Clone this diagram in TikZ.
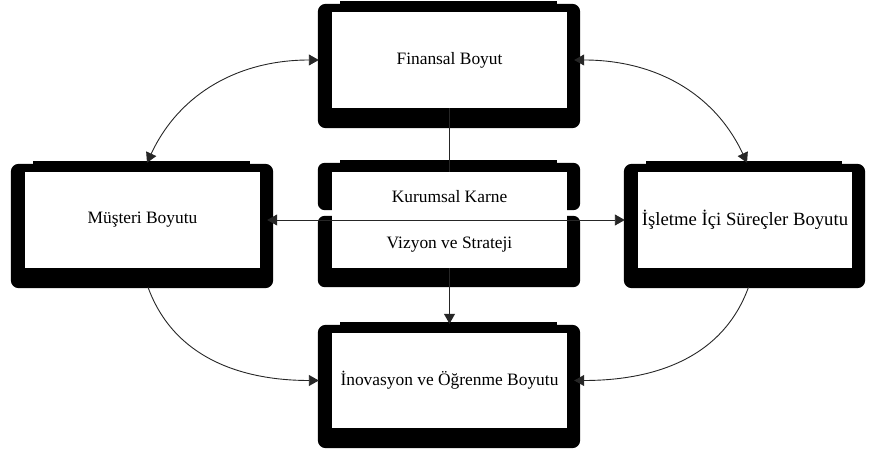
\documentclass[tikz,border=0pt]{standalone}
\usepackage{fontspec}
\setmainfont{Liberation Serif}
\usetikzlibrary{calc,arrows.meta,backgrounds}

% heavy black frame around a panel node: thin top, heavy sides and bottom
\newcommand\panelframe[1]{%
  \fill[rounded corners=8pt] ($(#1.south west)+(-14,-20)$) rectangle ($(#1.north east)+(13,8)$);
  \fill ($(#1.north west)+(8,8)$) rectangle ($(#1.north east)+(-10,10.5)$);
}

\begin{document}
\begin{tikzpicture}[x=1pt,y=1pt,
  panel/.style={fill=white, inner sep=0pt, minimum width=235pt, minimum height=96pt,
                font=\fontsize{17.4}{20}\selectfont},
  link/.style={draw=black!85, line width=0.9pt},
  head/.tip={Triangle[length=10pt,width=11pt]},
  twoway/.style={link, head-head},
  oneway/.style={link, -head}]

\useasboundingbox (0,0) rectangle (878,452);

% panels
\node[panel] (fin) at (449.5,392) {Finansal Boyut};
\node[panel] (mus) at (142.5,232) {Müşteri Boyutu};
\node[panel, minimum width=214pt, font=\fontsize{18.7}{20}\selectfont] (isl) at (745,232) {İşletme İçi Süreçler Boyutu};
\node[panel, minimum height=49pt] (kk) at (449.5,255.5) {Kurumsal Karne};
\node[panel, minimum height=47pt] (vs) at (449.5,207.5) {Vizyon ve Strateji};
\node[panel, minimum height=95pt] (ino) at (449.5,71.5) {İnovasyon ve Öğrenme Boyutu};

% frames behind the panels
\begin{scope}[on background layer]
  \panelframe{fin}
  \panelframe{mus}
  \panelframe{isl}
  \panelframe{ino}
  % the central panel is two stacked frames with a notch between them
  \fill[rounded corners=7pt] ($(kk.south west)+(-14,11)$) rectangle ($(kk.north east)+(13,9)$);
  \fill ($(kk.north west)+(8,9)$) rectangle ($(kk.north east)+(-10,11.5)$);
  \fill[rounded corners=7pt] ($(vs.south west)+(-14,-19)$) rectangle ($(vs.north east)+(13,5)$);
\end{scope}

% connectors
\draw[twoway] ($(fin.west)+(-13,0)$) to[out=180,in=65] ($(mus.north)+(4.5,9)$);
\draw[twoway] ($(fin.east)+(7,0)$) to[out=0,in=115] ($(isl.north)+(2,9)$);
\draw[oneway] ($(mus.south)+(5.5,-19)$) to[out=-70,in=180] ($(ino.west)+(-13,0)$);
\draw[oneway] ($(isl.south)+(3.5,-19)$) to[out=-110,in=0] ($(ino.east)+(7,0)$);
\draw[twoway] ($(mus.east)+(7,0)$) -- ($(isl.west)+(-13,0)$);
\draw[link] (fin.south) -- (kk.north);
\draw[oneway] (vs.south) -- ($(ino.north)+(0,9)$);
\end{tikzpicture}
\end{document}
